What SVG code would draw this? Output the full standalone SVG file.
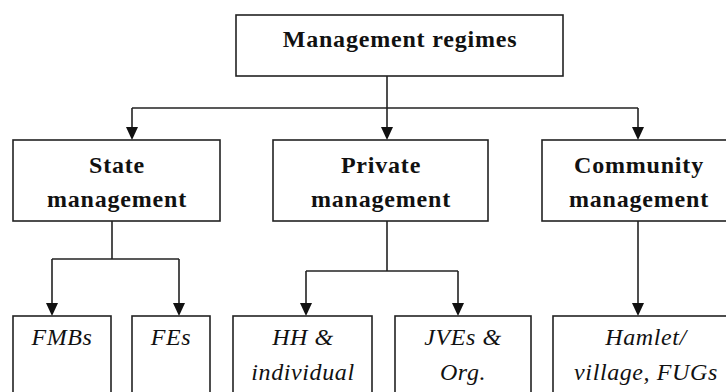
<svg xmlns="http://www.w3.org/2000/svg" width="726" height="392" viewBox="0 0 726 392">
<defs>
<style>
.box{fill:#fff;stroke:#222;stroke-width:1.6}
.b{font-family:"Liberation Serif","Times New Roman",serif;font-weight:bold;font-size:24px;letter-spacing:0.8px;fill:#111;text-anchor:middle}
.i{font-family:"Liberation Serif","Times New Roman",serif;font-style:italic;font-size:24px;letter-spacing:0.6px;fill:#111;text-anchor:middle}
.ln{fill:none;stroke:#222;stroke-width:1.6}
.ah{fill:#111}
</style>
</defs>
<rect width="726" height="392" fill="#fff"/>
<g id="connectors">
<path class="ln" d="M387,76 V108"/>
<path class="ln" d="M132,108 H638"/>
<path class="ln" d="M132,108 V127"/>
<path class="ln" d="M387,108 V127"/>
<path class="ln" d="M638,108 V127"/>
<path class="ah" d="M126,127 L138,127 L132,140 Z"/>
<path class="ah" d="M381,127 L393,127 L387,140 Z"/>
<path class="ah" d="M632,127 L644,127 L638,140 Z"/>
<path class="ln" d="M112,221 V259"/>
<path class="ln" d="M52,259 H179"/>
<path class="ln" d="M52,259 V303"/>
<path class="ln" d="M179,259 V303"/>
<path class="ah" d="M46,303 L58,303 L52,316 Z"/>
<path class="ah" d="M173,303 L185,303 L179,316 Z"/>
<path class="ln" d="M387,221 V271"/>
<path class="ln" d="M306,271 H458"/>
<path class="ln" d="M306,271 V303"/>
<path class="ln" d="M458,271 V303"/>
<path class="ah" d="M300,303 L312,303 L306,316 Z"/>
<path class="ah" d="M452,303 L464,303 L458,316 Z"/>
<path class="ln" d="M638,221 V303"/>
<path class="ah" d="M632,303 L644,303 L638,316 Z"/>
</g>
<g id="root">
<rect class="box" x="236" y="15" width="327" height="61"/>
<text class="b" x="400" y="47">Management regimes</text>
</g>
<g id="state">
<rect class="box" x="13" y="140" width="207" height="81"/>
<text class="b" x="117" y="173">State</text>
<text class="b" x="117" y="207">management</text>
</g>
<g id="private">
<rect class="box" x="273" y="140" width="215" height="81"/>
<text class="b" x="381" y="173">Private</text>
<text class="b" x="381" y="207">management</text>
</g>
<g id="community">
<rect class="box" x="542" y="140" width="194" height="81"/>
<text class="b" x="639" y="173">Community</text>
<text class="b" x="639" y="207">management</text>
</g>
<g id="fmbs">
<rect class="box" x="13" y="316" width="98" height="90"/>
<text class="i" x="62" y="345">FMBs</text>
</g>
<g id="fes">
<rect class="box" x="132" y="316" width="78" height="90"/>
<text class="i" x="171" y="345">FEs</text>
</g>
<g id="hh">
<rect class="box" x="233" y="316" width="139" height="90"/>
<text class="i" x="303" y="345">HH &amp;</text>
<text class="i" x="303" y="380">individual</text>
</g>
<g id="jves">
<rect class="box" x="395" y="316" width="136" height="90"/>
<text class="i" x="463" y="345">JVEs &amp;</text>
<text class="i" x="463" y="380">Org.</text>
</g>
<g id="hamlet">
<rect class="box" x="553" y="316" width="186" height="90"/>
<text class="i" x="646" y="345">Hamlet/</text>
<text class="i" x="646" y="380">village, FUGs</text>
</g>
</svg>
